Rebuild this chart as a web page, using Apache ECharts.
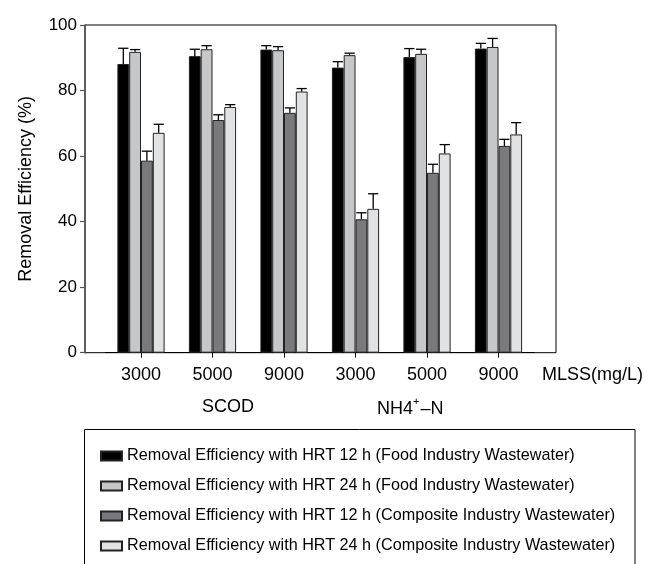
<!DOCTYPE html>
<html>
<head>
<meta charset="utf-8">
<script src="https://cdn.jsdelivr.net/npm/echarts@6/dist/echarts.min.js"></script>
<style>
html,body{margin:0;padding:0;background:#fff;}
#chart{width:648px;height:564px;}
</style>
</head>
<body>
<div id="chart"></div>
<script>
// ---- data ----
var mlssLabels = ["3000", "5000", "9000", "3000", "5000", "9000"];
var groupLabels = ["SCOD", "NH4+–N"];
var seriesNames = [
  "Removal Efficiency with HRT 12 h (Food Industry Wastewater)",
  "Removal Efficiency with HRT 24 h (Food Industry Wastewater)",
  "Removal Efficiency with HRT 12 h (Composite Industry Wastewater)",
  "Removal Efficiency with HRT 24 h (Composite Industry Wastewater)"
];
var food12 = [88.1, 90.5, 92.5, 87.0, 90.2, 92.8];
var food24 = [91.8, 92.6, 92.3, 90.8, 91.2, 93.3];
var comp12 = [58.6, 71.0, 73.2, 40.7, 54.9, 63.1];
var comp24 = [67.1, 75.0, 79.7, 43.9, 60.8, 66.6];
var food12Err = [4.8, 2.1, 1.2, 1.8, 2.6, 1.6];
var food24Err = [0.7, 1.1, 1.1, 0.6, 1.4, 2.6];
var comp12Err = [2.9, 1.6, 1.5, 2.0, 2.6, 2.0];
var comp24Err = [2.6, 0.7, 0.9, 4.6, 2.7, 3.6];
var yTicks = [0, 20, 40, 60, 80, 100];

var values = [food12, food24, comp12, comp24];
var errors = [food12Err, food24Err, comp12Err, comp24Err];
var colors = ["#000000", "#c6c7c9", "#7a7a7e", "#e1e2e4"];
var GAP = 0.34;
var FONT = "Liberation Sans, Arial, Helvetica, sans-serif";

var errData = [];
for (var k = 0; k < 4; k++) {
  for (var i = 0; i < mlssLabels.length; i++) {
    errData.push([i, k, values[k][i], errors[k][i]]);
  }
}

var barSeries = values.map(function (arr, k) {
  return {
    name: seriesNames[k],
    type: "bar",
    xAxisIndex: 1,
    yAxisIndex: 1,
    data: arr,
    barGap: "0%",
    barCategoryGap: (GAP * 100) + "%",
    itemStyle: { color: colors[k], borderColor: "#222", borderWidth: 1 },
    emphasis: { disabled: true },
    z: 2
  };
});

var errSeries = {
  type: "custom",
  xAxisIndex: 1,
  yAxisIndex: 1,
  data: errData,
  encode: { x: 0, y: 2 },
  z: 5,
  silent: true,
  renderItem: function (params, api) {
    var cat = api.value(0), k = api.value(1), v = api.value(2), e = api.value(3);
    var band = api.size([1, 0])[0];
    var groupW = band * (1 - GAP);
    var bw = groupW / 4;
    var base = api.coord([cat, v]);
    var top = api.coord([cat, v + e]);
    var x = base[0] - groupW / 2 + bw * (k + 0.5);
    var hw = bw / 2 - 0.8;
    return {
      type: "group",
      children: [
        { type: "line", shape: { x1: x, y1: base[1], x2: x, y2: top[1] }, style: { stroke: "#000", lineWidth: 1.3 } },
        { type: "line", shape: { x1: x - hw, y1: top[1], x2: x + hw, y2: top[1] }, style: { stroke: "#000", lineWidth: 1.3 } }
      ]
    };
  }
};

var chart = echarts.init(document.getElementById("chart"), null, { renderer: "canvas" });
chart.setOption({
  backgroundColor: "#fff",
  animation: false,
  textStyle: { fontFamily: FONT, color: "#000" },
  grid: [
    { left: 85, top: 25, width: 471, height: 327.7, show: true, borderColor: "#000", borderWidth: 1, backgroundColor: "transparent" },
    { left: 105.25, top: 25, width: 429, height: 327.7 }
  ],
  xAxis: [
    { type: "category", gridIndex: 0, data: mlssLabels, show: false },
    {
      type: "category", gridIndex: 1, data: mlssLabels,
      axisLine: { show: true, lineStyle: { color: "#000", width: 1 } },
      axisTick: { show: true, alignWithLabel: true, length: 5, lineStyle: { color: "#000", width: 1 } },
      axisLabel: { fontSize: 18, color: "#000", fontFamily: FONT, margin: 13, interval: 0 },
      splitLine: { show: false }
    }
  ],
  yAxis: [
    {
      type: "value", gridIndex: 0, min: yTicks[0], max: yTicks[yTicks.length - 1], interval: 20,
      name: "Removal Efficiency (%)", nameLocation: "middle", nameRotate: 90, nameGap: 50,
      nameTextStyle: { fontSize: 18, color: "#000", fontFamily: FONT },
      axisLine: { show: true, lineStyle: { color: "#555", width: 1.6 } },
      axisTick: { show: true, length: 5, lineStyle: { color: "#555", width: 1.2 } },
      axisLabel: { fontSize: 17, color: "#000", fontFamily: FONT, margin: 8 },
      splitLine: { show: false }
    },
    { type: "value", gridIndex: 1, min: 0, max: 100, show: false, splitLine: { show: false } }
  ],
  legend: {
    orient: "vertical",
    left: 100,
    top: 448,
    padding: 0,
    data: seriesNames,
    icon: "rect",
    itemWidth: 21,
    itemHeight: 9,
    itemGap: 14,
    itemTextGap: 7,
    selectedMode: false,
    textStyle: { fontSize: 16.2, color: "#000", fontFamily: FONT }
  },
  graphic: [
    { type: "rect", shape: { x: 84.5, y: 429.5, width: 550.5, height: 200 }, style: { fill: "none", stroke: "#000", lineWidth: 1 }, silent: true, z: 0 },
    { type: "text", left: 542, top: 366, style: { text: "MLSS(mg/L)", font: "18px " + FONT, fill: "#000" }, silent: true },
    { type: "text", x: 228, y: 407, style: { text: groupLabels[0], font: "18px " + FONT, fill: "#000", align: "center", verticalAlign: "middle" }, silent: true },
    {
      type: "text", x: 377, y: 407, silent: true,
      style: {
        text: "{a|NH4}{s|+}{a|–N}",
        align: "left", verticalAlign: "middle",
        rich: {
          a: { fontSize: 18, fontFamily: FONT, fill: "#000", color: "#000", lineHeight: 22, verticalAlign: "bottom" },
          s: { fontSize: 11, fontFamily: FONT, fill: "#000", color: "#000", lineHeight: 22, verticalAlign: "top", padding: [0, 1, 0, 0] }
        }
      }
    }
  ],
  series: barSeries.concat([errSeries])
});
</script>
</body>
</html>
